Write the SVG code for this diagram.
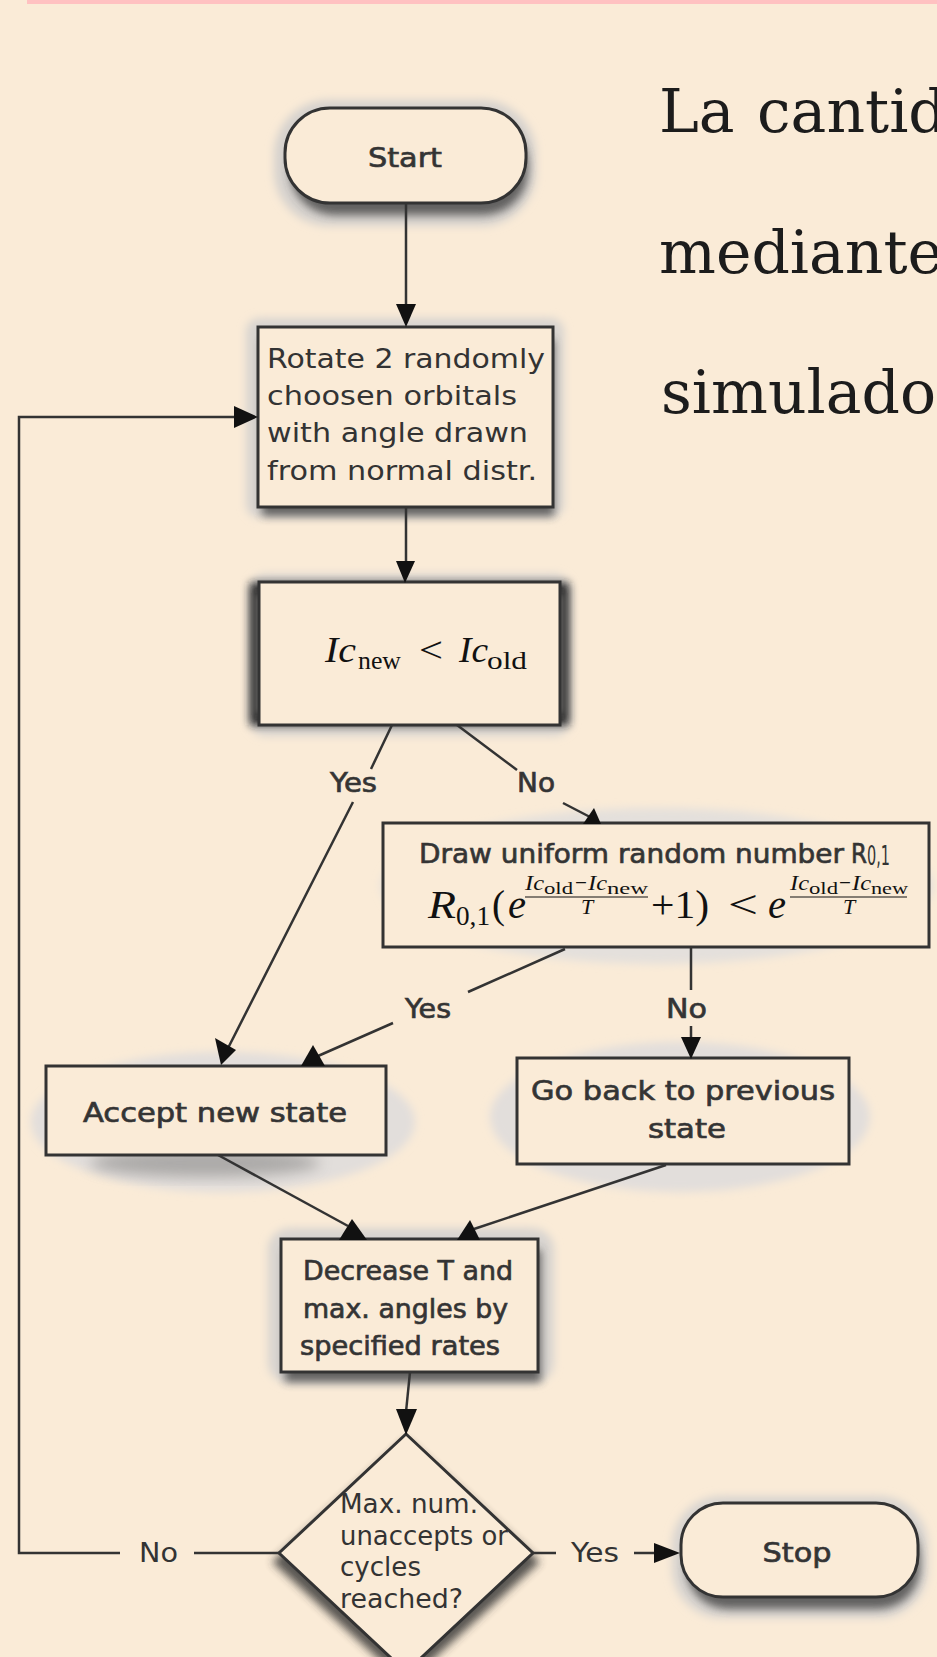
<svg xmlns="http://www.w3.org/2000/svg" width="937" height="1657" viewBox="0 0 937 1657">
<style>
.lbl{font-family:"DejaVu Sans",sans-serif;fill:#333;font-size:26px}
.bd{stroke:#3a3a3a;stroke-width:0.7}
.box{fill:#FAEBD7;stroke:#333;stroke-width:3}
.ln{fill:none;stroke:#333;stroke-width:2.5}
.head{fill:#111}
.m{font-family:"Liberation Serif",serif;fill:#111}
.mi{font-family:"Liberation Serif",serif;font-style:italic;fill:#111}
.big{font-family:"DejaVu Serif",serif;font-size:60px;fill:#1c1c1c}
</style>
<defs>
<filter id="b4" x="-30%" y="-30%" width="160%" height="160%"><feGaussianBlur stdDeviation="4"/></filter>
<filter id="b7" x="-30%" y="-30%" width="160%" height="160%"><feGaussianBlur stdDeviation="7"/></filter>
</defs>
<rect width="937" height="1657" fill="#FAEBD7"/>
<rect x="27" y="0" width="910" height="4" fill="#FFC1C1"/>
<g id="paragraph">
<text class="big" x="659" y="132">La</text>
<text class="big" x="757" y="132">cantid</text>
<text class="big" x="659" y="273">mediante</text>
<text class="big" x="661" y="413">simulado</text>
</g>
<g id="start">
<rect x="274" y="100" width="262" height="126" rx="55" fill="#d6d2ce" filter="url(#b4)"/>
<rect x="290" y="120" width="238" height="95" rx="45" fill="#444" opacity="0.8" filter="url(#b4)"/>
<rect class="box" x="285" y="108" width="241" height="95" rx="45"/>
<text class="lbl bd" x="405" y="167" text-anchor="middle" font-size="28" textLength="74" lengthAdjust="spacingAndGlyphs">Start</text>
</g>
<g id="rotate">
<rect x="246" y="318" width="318" height="200" rx="14" fill="#d8d4d0" filter="url(#b4)"/>
<rect x="262" y="340" width="292" height="176" fill="#444" opacity="0.8" filter="url(#b4)"/>
<rect class="box" x="258" y="327" width="295" height="180"/>
<text class="lbl" x="267" y="368" textLength="278" lengthAdjust="spacingAndGlyphs">Rotate 2 randomly</text>
<text class="lbl" x="267" y="405" textLength="250" lengthAdjust="spacingAndGlyphs">choosen orbitals</text>
<text class="lbl" x="267" y="442" textLength="261" lengthAdjust="spacingAndGlyphs">with angle drawn</text>
<text class="lbl" x="267" y="480" textLength="270" lengthAdjust="spacingAndGlyphs">from normal distr.</text>
</g>
<g id="compare">
<rect x="248" y="574" width="324" height="162" rx="18" fill="#d8d4d0" filter="url(#b4)"/>
<rect x="255" y="588" width="309" height="132" fill="none" stroke="#222" stroke-width="10" filter="url(#b4)"/>
<rect class="box" x="259" y="582" width="301" height="143" stroke-width="4"/>
<text class="mi" x="325" y="662" font-size="36" textLength="31" lengthAdjust="spacingAndGlyphs">Ic</text>
<text class="m" x="358" y="669" font-size="25" textLength="43" lengthAdjust="spacingAndGlyphs">new</text>
<text class="m" x="419" y="662" font-size="36" textLength="24" lengthAdjust="spacingAndGlyphs">&lt;</text>
<text class="mi" x="459" y="662" font-size="36" textLength="29" lengthAdjust="spacingAndGlyphs">Ic</text>
<text class="m" x="487" y="669" font-size="25" textLength="40" lengthAdjust="spacingAndGlyphs">old</text>
</g>
<g id="draw">
<ellipse cx="657" cy="886" rx="276" ry="78" fill="#e4e0dc" filter="url(#b4)"/>
<rect class="box" x="383" y="823" width="546" height="124"/>
<text class="lbl bd" x="419" y="863" font-size="25" textLength="425" lengthAdjust="spacingAndGlyphs">Draw uniform random number</text>
<text class="lbl bd" x="851" y="863" font-size="25" textLength="16" lengthAdjust="spacingAndGlyphs">R</text>
<text class="lbl" x="867" y="865" font-size="17" textLength="23" lengthAdjust="spacingAndGlyphs">0,1</text>
<text class="mi" x="428" y="918" font-size="41" textLength="28" lengthAdjust="spacingAndGlyphs">R</text>
<text class="m" x="456" y="925" font-size="28" textLength="34" lengthAdjust="spacingAndGlyphs">0,1</text>
<text class="m" x="492" y="918" font-size="41" textLength="13" lengthAdjust="spacingAndGlyphs">(</text>
<text class="mi" x="508" y="918" font-size="41" textLength="18" lengthAdjust="spacingAndGlyphs">e</text>
<text class="mi" x="525" y="890" font-size="22" textLength="19" lengthAdjust="spacingAndGlyphs">Ic</text>
<text class="m" x="544" y="894" font-size="16" textLength="29" lengthAdjust="spacingAndGlyphs">old</text>
<text class="m" x="575" y="890" font-size="22" textLength="12" lengthAdjust="spacingAndGlyphs">−</text>
<text class="mi" x="588" y="890" font-size="22" textLength="19" lengthAdjust="spacingAndGlyphs">Ic</text>
<text class="m" x="607" y="894" font-size="16" textLength="41" lengthAdjust="spacingAndGlyphs">new</text>
<line x1="525" y1="897" x2="648" y2="897" stroke="#111" stroke-width="1.2"/>
<text class="mi" x="587" y="914" font-size="22" text-anchor="middle">T</text>
<text class="m" x="651" y="918" font-size="41" textLength="58" lengthAdjust="spacingAndGlyphs">+1)</text>
<text class="m" x="728" y="918" font-size="41" textLength="30" lengthAdjust="spacingAndGlyphs">&lt;</text>
<text class="mi" x="768" y="918" font-size="41" textLength="18" lengthAdjust="spacingAndGlyphs">e</text>
<text class="mi" x="790" y="890" font-size="22" textLength="19" lengthAdjust="spacingAndGlyphs">Ic</text>
<text class="m" x="809" y="894" font-size="16" textLength="29" lengthAdjust="spacingAndGlyphs">old</text>
<text class="m" x="839" y="890" font-size="22" textLength="12" lengthAdjust="spacingAndGlyphs">−</text>
<text class="mi" x="852" y="890" font-size="22" textLength="19" lengthAdjust="spacingAndGlyphs">Ic</text>
<text class="m" x="871" y="894" font-size="16" textLength="37" lengthAdjust="spacingAndGlyphs">new</text>
<line x1="790" y1="897" x2="907" y2="897" stroke="#111" stroke-width="1.2"/>
<text class="mi" x="849" y="914" font-size="22" text-anchor="middle">T</text>
</g>
<g id="accept">
<ellipse cx="223" cy="1122" rx="192" ry="70" fill="#e2dedb" filter="url(#b4)"/>
<ellipse cx="205" cy="1163" rx="115" ry="14" fill="#777" opacity="0.5" filter="url(#b7)"/>
<rect class="box" x="46" y="1066" width="340" height="89"/>
<text class="lbl bd" x="83" y="1122" textLength="264" lengthAdjust="spacingAndGlyphs">Accept new state</text>
</g>
<g id="goback">
<ellipse cx="680" cy="1117" rx="190" ry="75" fill="#e2dedb" filter="url(#b4)"/>
<rect class="box" x="517" y="1058" width="332" height="106"/>
<text class="lbl bd" x="531" y="1100" textLength="304" lengthAdjust="spacingAndGlyphs">Go back to previous</text>
<text class="lbl bd" x="648" y="1138" textLength="78" lengthAdjust="spacingAndGlyphs">state</text>
</g>
<g id="decrease">
<rect x="268" y="1228" width="286" height="156" rx="22" fill="#d8d4d0" filter="url(#b4)"/>
<rect x="285" y="1250" width="256" height="132" fill="#444" opacity="0.8" filter="url(#b4)"/>
<rect class="box" x="281" y="1239" width="257" height="133"/>
<text class="lbl bd" x="303" y="1280" font-size="25" textLength="210" lengthAdjust="spacingAndGlyphs">Decrease T and</text>
<text class="lbl bd" x="303" y="1318" font-size="25" textLength="205" lengthAdjust="spacingAndGlyphs">max. angles by</text>
<text class="lbl bd" x="300" y="1355" font-size="25" textLength="200" lengthAdjust="spacingAndGlyphs">specified rates</text>
</g>
<g id="check">
<polygon points="406,1440 540,1562 406,1684 272,1562" fill="#333" opacity="0.8" filter="url(#b4)"/>
<polygon points="406,1434 533,1553 406,1672 279,1553" fill="#FAEBD7"/>
<text class="lbl" x="340" y="1513" font-size="25" textLength="138" lengthAdjust="spacingAndGlyphs">Max. num.</text>
<text class="lbl" x="340" y="1545" font-size="25" textLength="168" lengthAdjust="spacingAndGlyphs">unaccepts or</text>
<text class="lbl" x="340" y="1576" font-size="25" textLength="81" lengthAdjust="spacingAndGlyphs">cycles</text>
<text class="lbl" x="340" y="1608" font-size="25" textLength="123" lengthAdjust="spacingAndGlyphs">reached?</text>
<polygon points="406,1434 533,1553 406,1672 279,1553" fill="none" stroke="#333" stroke-width="3"/>
</g>
<g id="stop">
<rect x="672" y="1496" width="256" height="122" rx="50" fill="#d8d4d0" filter="url(#b4)"/>
<rect x="686" y="1515" width="234" height="94" rx="42" fill="#444" opacity="0.8" filter="url(#b4)"/>
<rect class="box" x="681" y="1503" width="237" height="94" rx="42"/>
<text class="lbl bd" x="797" y="1562" text-anchor="middle" font-size="28" textLength="69" lengthAdjust="spacingAndGlyphs">Stop</text>
</g>
<g id="connectors">
<path class="ln" d="M406,203 L406,310"/>
<polygon class="head" points="396,304 416,304 406,327"/>
<path class="ln" d="M406,507 L406,565"/>
<polygon class="head" points="396,561 415,561 405,583"/>
<path class="ln" d="M392,725 L371,769 M353,802 L223,1058"/>
<polygon class="head" points="215,1038 236,1050 221,1065"/>
<text class="lbl bd" x="330" y="792" textLength="47" lengthAdjust="spacingAndGlyphs">Yes</text>
<path class="ln" d="M457,725 L517,770 M563,803 L590,817"/>
<polygon class="head" points="583,824 601,824 594,808"/>
<text class="lbl bd" x="517" y="792" textLength="38" lengthAdjust="spacingAndGlyphs">No</text>
<path class="ln" d="M565,949 L468,992 M393,1023 L318,1056"/>
<polygon class="head" points="301,1066 325,1066 313,1045"/>
<text class="lbl bd" x="405" y="1018" textLength="46" lengthAdjust="spacingAndGlyphs">Yes</text>
<path class="ln" d="M691,948 L691,990 M691,1026 L691,1040"/>
<polygon class="head" points="681,1037 701,1037 691,1059"/>
<text class="lbl bd" x="666" y="1018" textLength="41" lengthAdjust="spacingAndGlyphs">No</text>
<path class="ln" d="M218,1155 L348,1226"/>
<polygon class="head" points="339,1240 367,1240 352,1219"/>
<path class="ln" d="M666,1165 L474,1229"/>
<polygon class="head" points="457,1240 480,1240 470,1220"/>
<path class="ln" d="M410,1372 L406,1412"/>
<polygon class="head" points="396,1409 417,1409 406,1435"/>
<path class="ln" d="M279,1553 L194,1553 M120,1553 L19,1553 L19,417 L236,417"/>
<polygon class="head" points="234,406 234,428 258,417"/>
<text class="lbl" x="139" y="1562" textLength="39" lengthAdjust="spacingAndGlyphs">No</text>
<path class="ln" d="M533,1553 L556,1553 M634,1553 L656,1553"/>
<polygon class="head" points="654,1543 654,1563 680,1553"/>
<text class="lbl" x="571" y="1562" textLength="48" lengthAdjust="spacingAndGlyphs">Yes</text>
</g>
</svg>
